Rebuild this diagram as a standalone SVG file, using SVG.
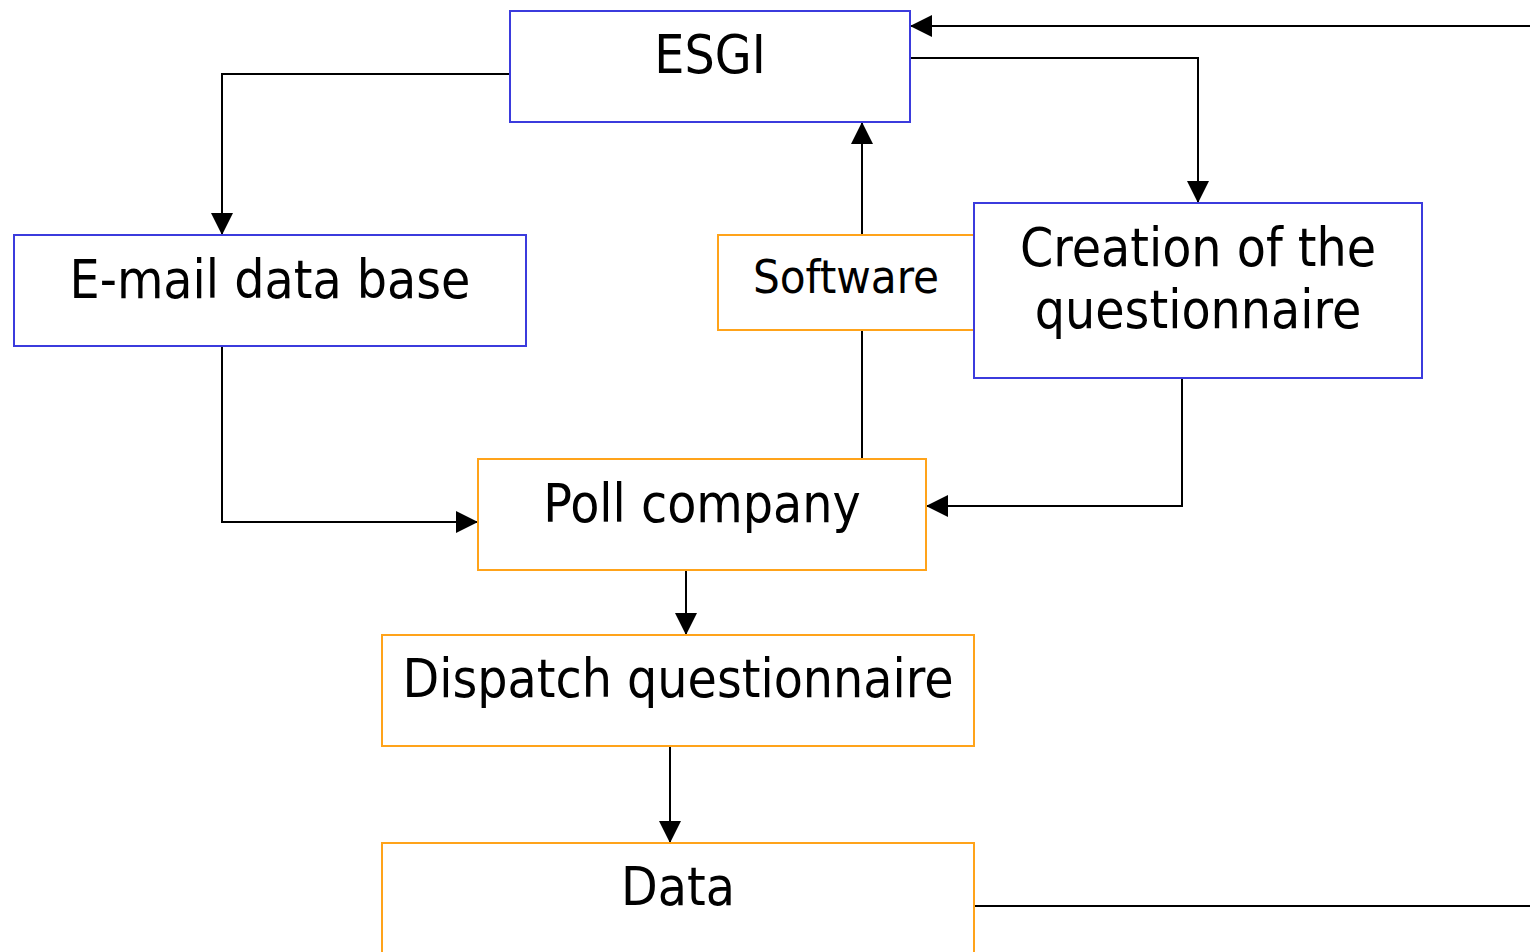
<svg xmlns="http://www.w3.org/2000/svg" width="1530" height="952" viewBox="0 0 1530 952">
<style>
.blue{fill:#fff;stroke:#3b3bdd;stroke-width:2}
.orange{fill:#fff;stroke:#ffa31a;stroke-width:2}
.t{font-family:"DejaVu Sans Condensed","DejaVu Sans",sans-serif;font-size:53px;fill:#000;text-anchor:middle}
.ts{font-size:47px}
.c{fill:none;stroke:#000;stroke-width:2}
</style>
<defs>
<marker id="ah" markerUnits="userSpaceOnUse" markerWidth="22" markerHeight="24" refX="22" refY="12" orient="auto">
<path d="M0,1 L22,12 L0,23 Z" fill="#000"/>
</marker>
</defs>
<g id="connectors">
<path class="c" d="M510,74 H222 V235" marker-end="url(#ah)"/>
<path class="c" d="M910,58 H1198 V203" marker-end="url(#ah)"/>
<path class="c" d="M862,235 V122" marker-end="url(#ah)"/>
<path class="c" d="M862,459 V330"/>
<path class="c" d="M222,346 V522 H478" marker-end="url(#ah)"/>
<path class="c" d="M1182,378 V506 H926" marker-end="url(#ah)"/>
<path class="c" d="M686,570 V635" marker-end="url(#ah)"/>
<path class="c" d="M670,746 V843" marker-end="url(#ah)"/>
<path class="c" d="M974,906 H1530"/>
<path class="c" d="M1530,26 H910" marker-end="url(#ah)"/>
</g>
<g id="esgi"><rect class="blue" x="510" y="11" width="400" height="111"/><text class="t" x="710" y="73">ESGI</text></g>
<g id="email"><rect class="blue" x="14" y="235" width="512" height="111"/><text class="t" x="270" y="298">E-mail data base</text></g>
<g id="software"><rect class="orange" x="718" y="235" width="256" height="95"/><text class="t ts" x="846" y="293">Software</text></g>
<g id="creation"><rect class="blue" x="974" y="203" width="448" height="175"/><text class="t" x="1198" y="266">Creation of the</text><text class="t" x="1198" y="328">questionnaire</text></g>
<g id="poll"><rect class="orange" x="478" y="459" width="448" height="111"/><text class="t" x="702" y="522">Poll company</text></g>
<g id="dispatch"><rect class="orange" x="382" y="635" width="592" height="111"/><text class="t" x="678" y="697">Dispatch questionnaire</text></g>
<g id="data"><rect class="orange" x="382" y="843" width="592" height="130"/><text class="t" x="678" y="905">Data</text></g>
</svg>
